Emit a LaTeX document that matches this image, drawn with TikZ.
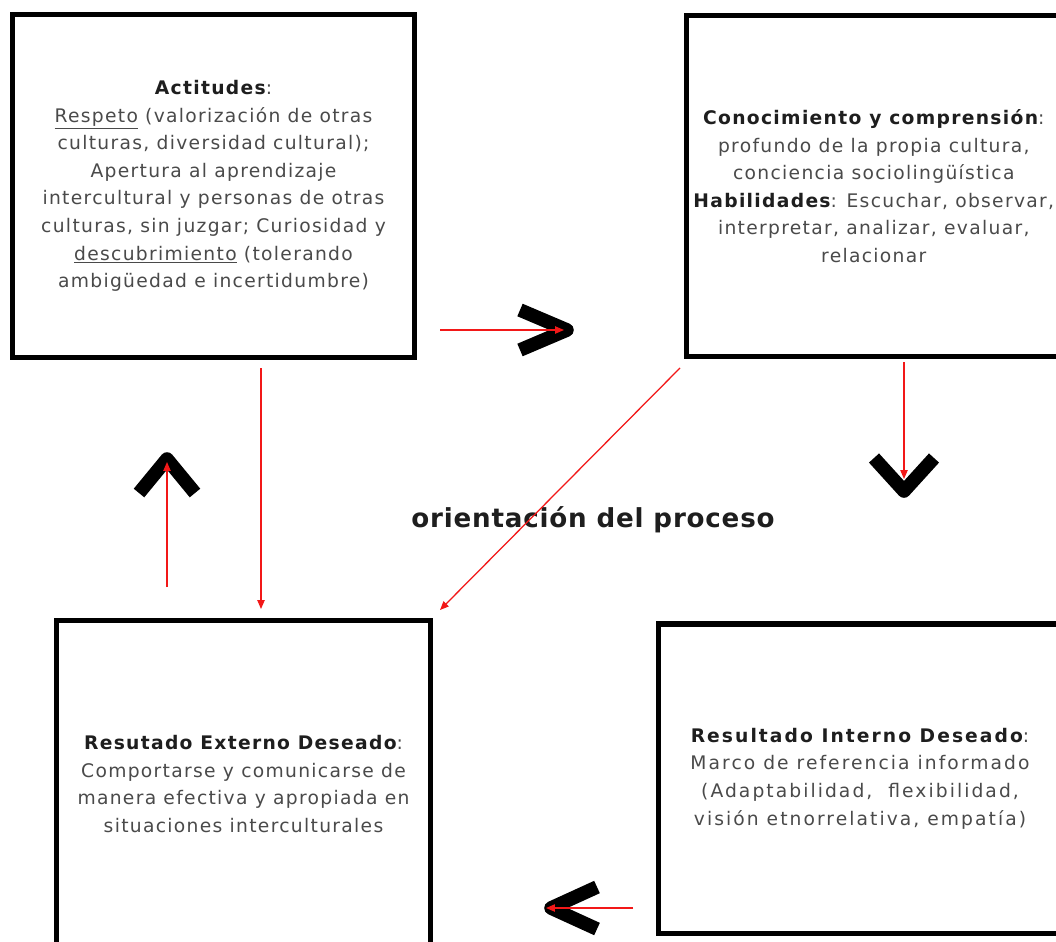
\documentclass[tikz,border=0pt]{standalone}
\usepackage{fontspec}
\usetikzlibrary{arrows.meta}
\newfontfamily\bodyfont{DejaVu Sans}[LetterSpace=7]
\newfontfamily\widefont{DejaVu Sans}[LetterSpace=11]
\newfontfamily\titlefont{DejaVu Sans}[LetterSpace=3]
\definecolor{bodygray}{HTML}{4A4A4A}
\definecolor{headgray}{HTML}{1E1E1E}
\definecolor{arrowred}{HTML}{F21818}
\tikzset{
  box/.style={draw=black, line width=3.6pt, fill=white, inner sep=0pt, align=center,
    font=\bodyfont\fontsize{13.3}{19.6}\selectfont, text=bodygray},
  chevron/.style={draw=black, line width=0.34cm, line join=round, line cap=butt},
  redarrow/.style={draw=arrowred, line width=0.9pt, -{Triangle[length=0.22cm,width=0.18cm]}}
}
\newcommand{\hd}[1]{{\bfseries\color{headgray}#1}}
\begin{document}
\begin{tikzpicture}[x=0.025cm, y=-0.025cm]
\useasboundingbox (0,0) rectangle (1056,941);
\clip (0,0) rectangle (1056,941);
\fill[white] (0,0) rectangle (1056,941);

% boxes
\node[box, minimum width=10.05cm, minimum height=8.55cm] (b1) at (213.5,186)
 {\hd{Actitudes}:\\
  \underline{Respeto} (valorización de otras\\
  culturas, diversidad cultural);\\
  Apertura al aprendizaje\\
  intercultural y personas de otras\\
  culturas, sin juzgar; Curiosidad y\\
  \underline{descubrimiento} (tolerando\\
  ambigüedad e incertidumbre)};

\node[box, minimum width=9.36cm, minimum height=8.525cm] (b2) at (873.75,186)
 {\hd{Conocimiento y comprensión}:\\
  profundo de la propia cultura,\\
  conciencia sociolingüística\\
  \hd{Habilidades}: Escuchar, observar,\\
  interpretar, analizar, evaluar,\\
  relacionar};

\node[box, minimum width=9.325cm, minimum height=8.19cm] (b3) at (243.5,784)
 {\hd{Resutado Externo Deseado}:\\
  Comportarse y comunicarse de\\
  manera efectiva y apropiada en\\
  situaciones interculturales};

\node[box, font=\widefont\fontsize{13.3}{19.6}\selectfont, minimum width=10.05cm, minimum height=7.725cm] (b4) at (860,778.5)
 {\hd{Resultado Interno Deseado}:\\
  Marco de referencia informado\\
  (Adaptabilidad,\ \ flexibilidad,\\
  visión etnorrelativa, empatía)};

% title
\node[font=\titlefont\bfseries\fontsize{18.6}{22}\selectfont, text=headgray] (title) at (593,520) {orientación del proceso};

% chevrons
\draw[chevron] (520,310) -- (567,330) -- (520,350);
\draw[chevron] (139,493) -- (167,459) -- (195,493);
\draw[chevron] (874,458) -- (904,491) -- (934,458);
\draw[chevron] (597,887) -- (551,908) -- (597,929);

% connector end points
\coordinate (r1s) at (440,330);
\coordinate (r1e) at (564,330);
\coordinate (d1s) at (261,368);
\coordinate (d1e) at (261,609);
\coordinate (u1s) at (167,587);
\coordinate (u1e) at (167,462);
\coordinate (g1s) at (680,368);
\coordinate (g1e) at (440,610);
\coordinate (d2s) at (904,362);
\coordinate (d2e) at (904,479);
\coordinate (l1s) at (633,908);
\coordinate (l1e) at (546,908);

% connectors
\draw[redarrow] (r1s) -- (r1e);
\draw[redarrow] (d1s) -- (d1e);
\draw[redarrow] (u1s) -- (u1e);
\draw[redarrow] (g1s) -- (g1e);
\draw[redarrow] (d2s) -- (d2e);
\draw[redarrow] (l1s) -- (l1e);
\end{tikzpicture}
\end{document}
